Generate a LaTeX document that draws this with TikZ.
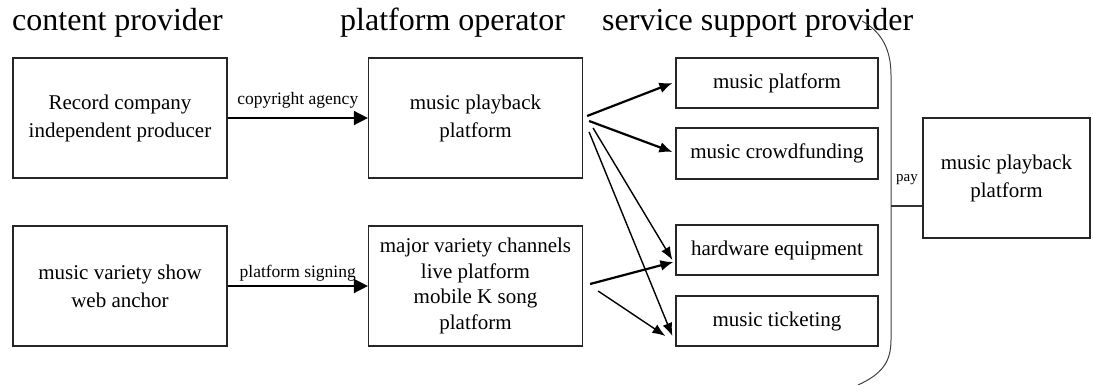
\documentclass[tikz,border=0pt]{standalone}
\usepackage{fontspec}
\setmainfont{Liberation Serif}
\usetikzlibrary{arrows.meta,calc}
\begin{document}
\begin{tikzpicture}[x=1pt,y=-1pt,
  box/.style={draw=black!85,line width=1.2pt,rectangle,align=center,inner sep=0pt,
    font=\fontsize{21}{28}\selectfont},
  bigbox/.style={box,minimum width=214pt,minimum height=120pt},
  smallbox/.style={box,minimum width=202pt,minimum height=50pt},
  title/.style={font=\fontsize{32}{36}\selectfont,inner sep=0pt},
  elabel/.style={font=\fontsize{17.5}{20}\selectfont,inner sep=0pt},
  harrow/.style={line width=1.6pt,-{Triangle[length=14pt,width=14pt]}},
  tarrow/.style={line width=2.2pt,-{Latex[length=13pt,width=11pt]}},
  narrow/.style={line width=1.4pt,-{Latex[length=13pt,width=10pt]}}
]
\useasboundingbox (0,0) rectangle (1093,385);
% titles
\node[title,anchor=base west] (t1) at (12,31) {content provider};
\node[title,anchor=base west] (t2) at (340,31) {platform operator};
\node[title,anchor=base west] (t3) at (602,31) {service support provider};
% left column
\node[bigbox] (A) at (120,118) {Record company\\independent producer};
\node[bigbox] (C) at (120,286) {music variety show\\web anchor};
% middle column
\node[bigbox] (B) at (475.5,118) {music playback\\platform};
\node[bigbox,font=\fontsize{21}{25.5}\selectfont] (D) at (475.5,286) {major variety channels\\live platform\\mobile K song\\platform};
% right column
\node[smallbox] (mp) at (777,83) {music platform};
\node[smallbox,minimum height=51pt] (mc) at (777,153.5) {music crowdfunding};
\node[smallbox] (hw) at (777,250) {hardware equipment};
\node[smallbox] (tk) at (777,321) {music ticketing};
% final box
\node[box,minimum width=167pt,minimum height=120pt] (F) at (1006.5,178) {music playback\\platform};
% horizontal arrows
\draw[harrow] (A.east) -- node[elabel,above=9pt] (la) {copyright agency} (B.west);
\draw[harrow] (C.east) -- node[elabel,above=4pt] (lc) {platform signing} (D.west);
% fan arrows
\draw[tarrow] ($(B.east)+(4,-2)$) -- ($(mp.west)+(-3,0)$);
\draw[tarrow] ($(B.east)+(6,3)$) -- ($(mc.west)+(-3,-1.5)$);
\draw[narrow] ($(B.east)+(10,10)$) -- ($(hw.west)+(-3,10)$);
\draw[narrow] ($(B.east)+(6,14)$) -- ($(tk.west)+(-3,15)$);
\draw[tarrow] ($(D.east)+(7,-2)$) -- ($(hw.west)+(-2,12)$);
\draw[narrow] ($(D.east)+(15,5)$) -- ($(tk.west)+(-10,15)$);
% bracket
\coordinate (br1) at (862,21);
\coordinate (br2) at (891,75);
\coordinate (br3) at (891,340);
\coordinate (br4) at (858,385);
\draw[black!75,line width=1pt] (br1) .. controls (882,32) and (891,50) .. (br2) -- (br3) .. controls (891,362) and (882,374) .. (br4);
\coordinate (pj) at (891,206);
\draw[black!80,line width=1pt] (pj) -- (pj -| F.west);
\node[font=\fontsize{15}{17}\selectfont,inner sep=0pt] (pay) at (907,180) {pay};
\end{tikzpicture}
\end{document}
